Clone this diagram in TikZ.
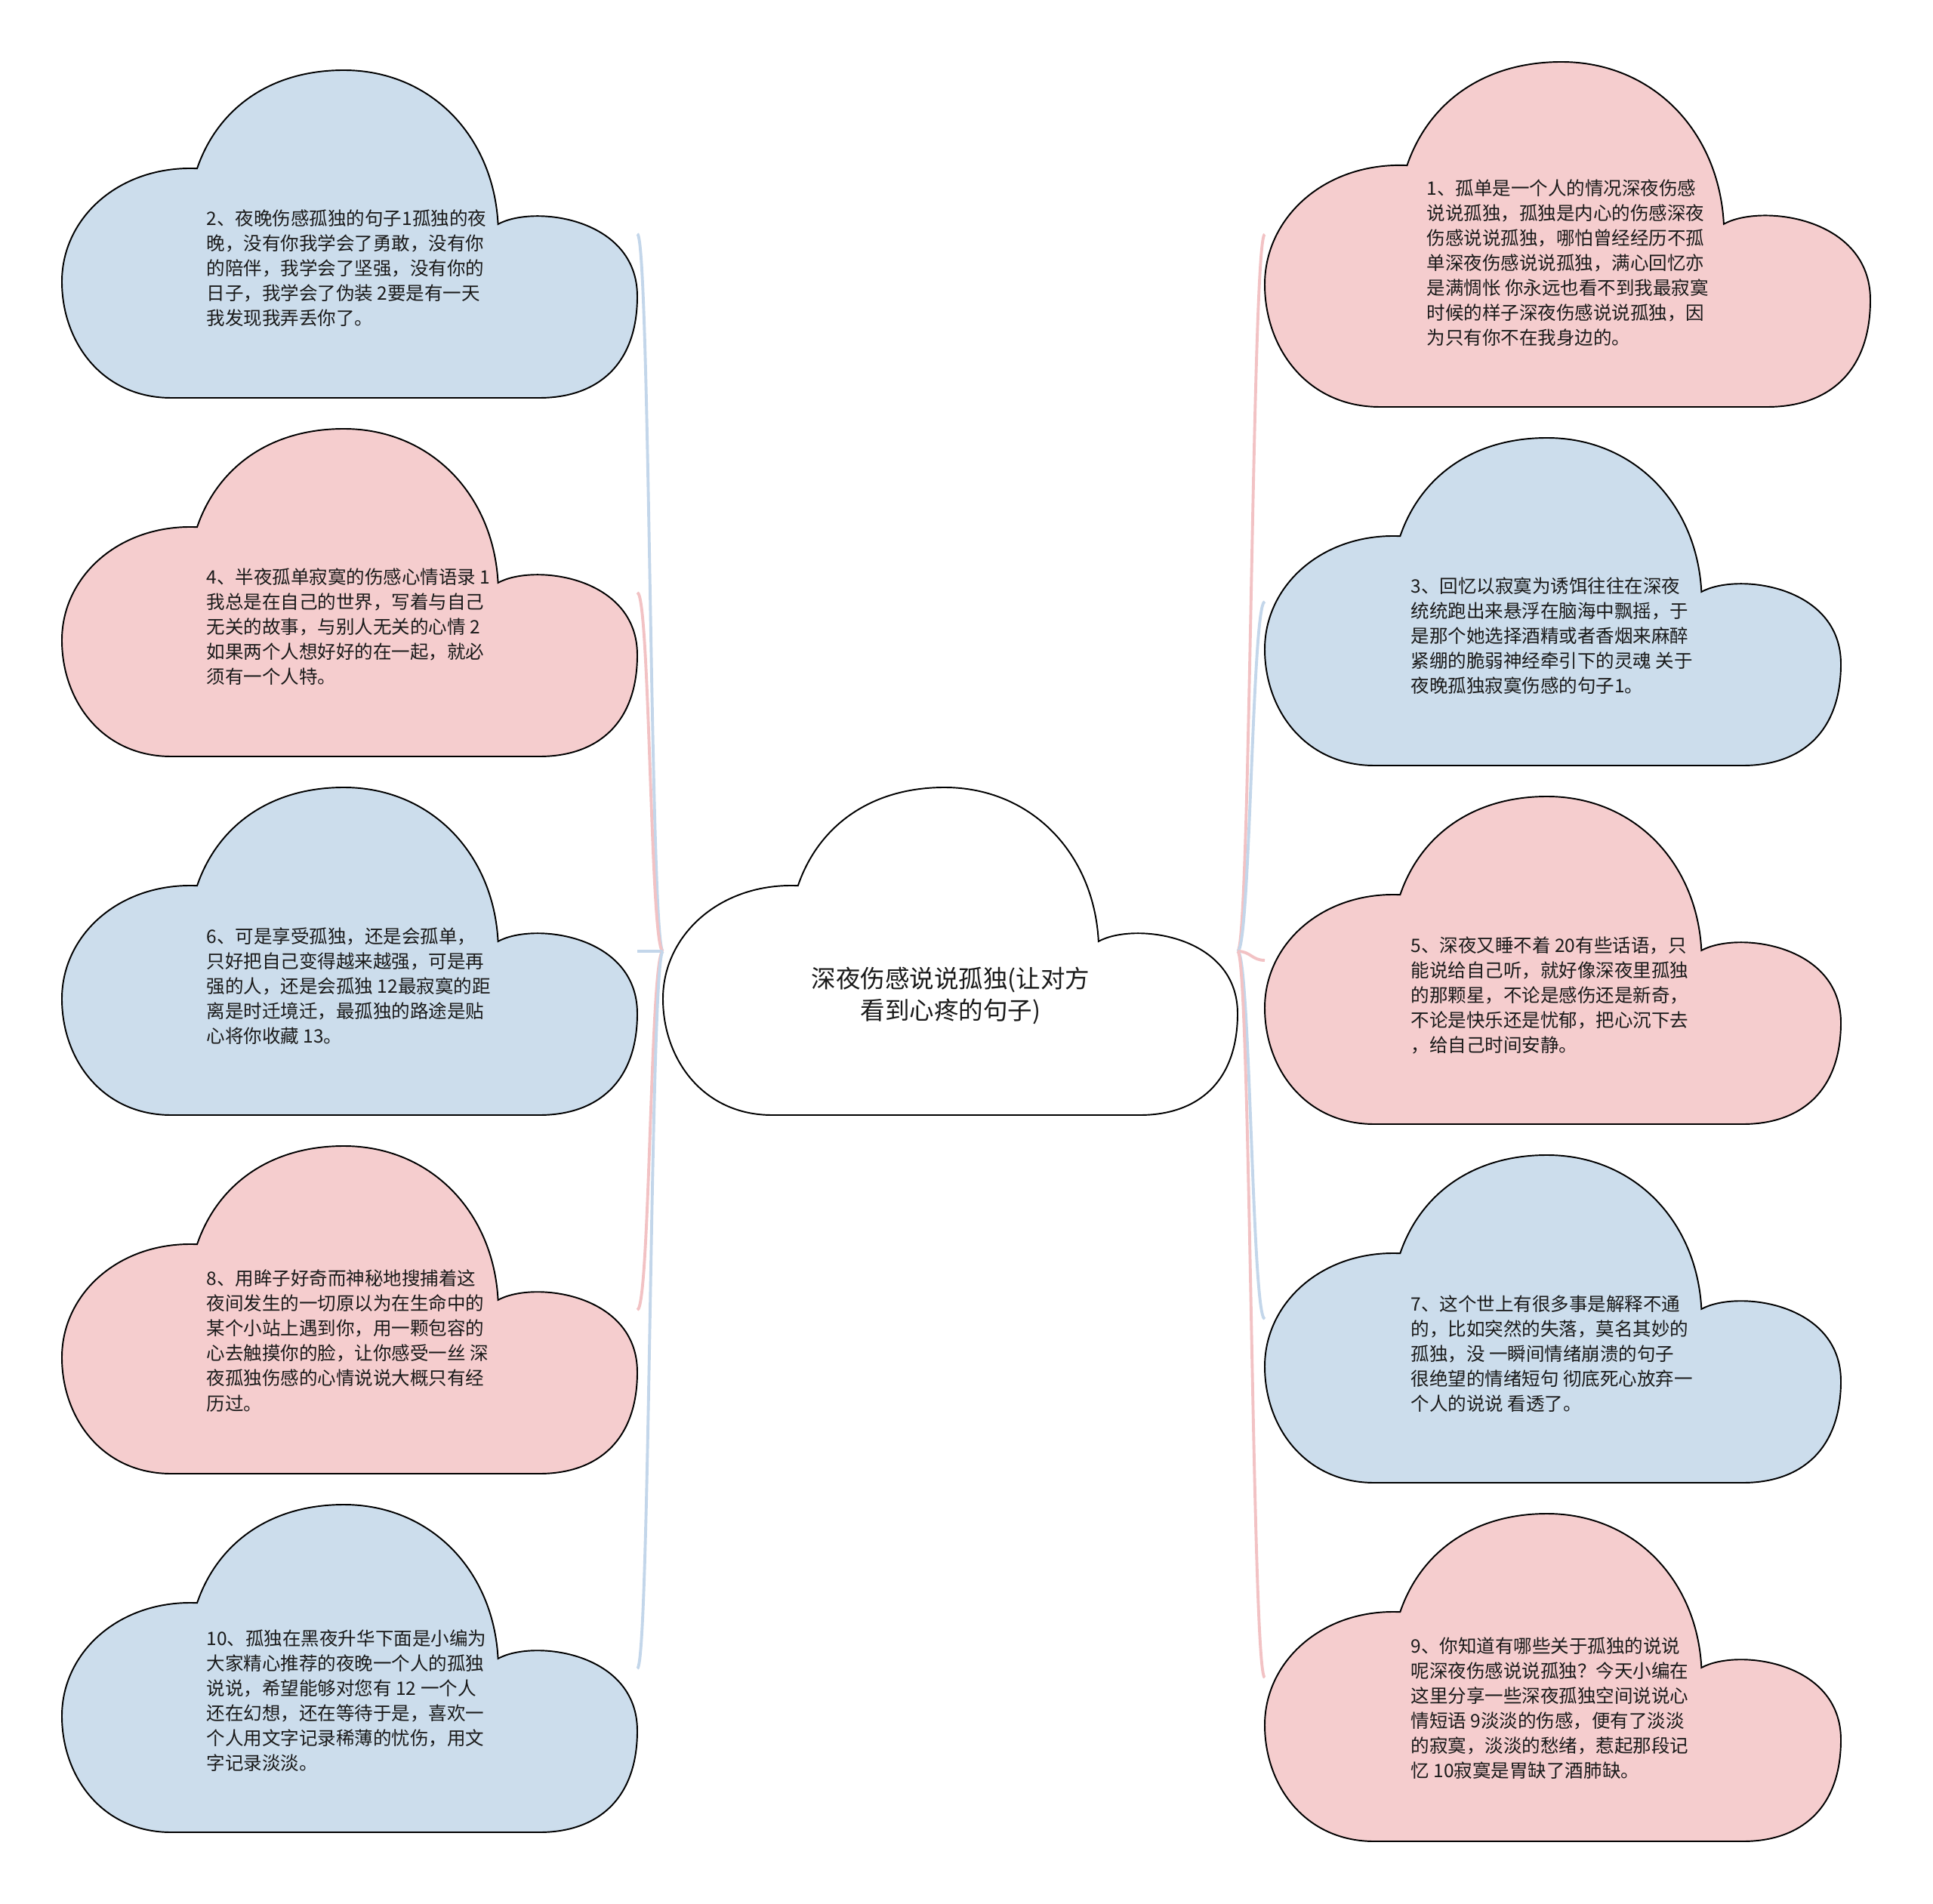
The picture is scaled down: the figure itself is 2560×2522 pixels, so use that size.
\documentclass[tikz,border=0pt]{standalone}
\usepackage{fontspec}
\newfontfamily\cjk{Noto Sans CJK SC}
\usetikzlibrary{calc,backgrounds}
\definecolor{bluefill}{HTML}{CCDDEC}
\definecolor{pinkfill}{HTML}{F5CDCE}
\definecolor{blueline}{HTML}{C3D6EA}
\definecolor{pinkline}{HTML}{F2C2C4}
\definecolor{txt}{HTML}{1A1A1A}
\tikzset{
  cloudline/.style={draw=black, line width=0.55pt},
  cloudbox/.style={rectangle, inner sep=0pt, outer sep=0pt},
  bodytext/.style={font=\cjk\fontsize{6.97pt}{9.39pt}\selectfont, text=txt, align=left, inner sep=0pt, anchor=west},
  titletext/.style={font=\cjk\fontsize{9.25pt}{12.1pt}\selectfont, text=txt, align=center, inner sep=0pt},
  conn/.style={line width=1.1pt},
}
\newcommand{\mkcloud}[6]{%
  \path[cloudline, fill=#6, shift={(#2,#3)}, xscale=#4, yscale=#5]
    (0.19,1) .. controls (0.07,1) and (0,0.83) .. (0,0.645)
    .. controls (0,0.45) and (0.1,0.29) .. (0.235,0.30)
    .. controls (0.27,0.12) and (0.36,0) .. (0.49,0)
    .. controls (0.64,0) and (0.75,0.2) .. (0.758,0.47)
    .. controls (0.82,0.41) and (1,0.45) .. (1,0.69)
    .. controls (1,0.9) and (0.93,1) .. (0.83,1)
    -- cycle;
  \node[cloudbox, minimum width=#4*0.01cm, minimum height=#5*0.01cm, anchor=north west] (#1) at (#2,#3) {};
}
\newcommand{\lconn}[2]{%
  \draw[conn, draw=#2] (ctr.west) .. controls ($(ctr.west)+(-17,0)$) and ($(#1.east)+(17,0)$) .. (#1.east);
}
\newcommand{\rconn}[2]{%
  \draw[conn, draw=#2] (ctr.east) .. controls ($(ctr.east)+(17,0)$) and ($(#1.west)+(-17,0)$) .. (#1.west);
}
\begin{document}
\begin{tikzpicture}[x=0.01cm,y=-0.01cm]
\path[use as bounding box] (0,0) rectangle (2560,2522);

% center
\mkcloud{ctr}{878}{1043}{761}{434}{white}
\node[titletext] (ttl) at (1259,1319) {深夜伤感说说孤独(让对方\\看到心疼的句子)};

% left column
\mkcloud{c2}{82}{93}{762}{434}{bluefill}
\mkcloud{c4}{82}{568}{762}{434}{pinkfill}
\mkcloud{c6}{82}{1043}{762}{434}{bluefill}
\mkcloud{c8}{82}{1518}{762}{434}{pinkfill}
\mkcloud{c10}{82}{1993}{762}{434}{bluefill}

% right column
\mkcloud{c1}{1675}{82}{802}{457}{pinkfill}
\mkcloud{c3}{1675}{580}{763}{434}{bluefill}
\mkcloud{c5}{1675}{1055}{763}{434}{pinkfill}
\mkcloud{c7}{1675}{1530}{763}{434}{bluefill}
\mkcloud{c9}{1675}{2005}{763}{434}{pinkfill}

\begin{scope}[on background layer]
\fill[white] (0,0) rectangle (2560,2522);
\lconn{c2}{blueline}
\lconn{c4}{pinkline}
\lconn{c6}{blueline}
\lconn{c8}{pinkline}
\lconn{c10}{blueline}
\rconn{c1}{pinkline}
\rconn{c3}{blueline}
\rconn{c5}{pinkline}
\rconn{c7}{blueline}
\rconn{c9}{pinkline}
\end{scope}

\node[bodytext] (t2) at (273,355) {2、夜晚伤感孤独的句子1孤独的夜\\晚，没有你我学会了勇敢，没有你\\的陪伴，我学会了坚强，没有你的\\日子，我学会了伪装 2要是有一天\\我发现我弄丢你了。};
\node[bodytext] (t4) at (273,830) {4、半夜孤单寂寞的伤感心情语录 1\\我总是在自己的世界，写着与自己\\无关的故事，与别人无关的心情 2\\如果两个人想好好的在一起，就必\\须有一个人特。};
\node[bodytext] (t6) at (273,1306) {6、可是享受孤独，还是会孤单，\\只好把自己变得越来越强，可是再\\强的人，还是会孤独 12最寂寞的距\\离是时迁境迁，最孤独的路途是贴\\心将你收藏 13。};
\node[bodytext] (t8) at (273,1776) {8、用眸子好奇而神秘地搜捕着这\\夜间发生的一切原以为在生命中的\\某个小站上遇到你，用一颗包容的\\心去触摸你的脸，让你感受一丝 深\\夜孤独伤感的心情说说大概只有经\\历过。};
\node[bodytext] (t10) at (273,2253) {10、孤独在黑夜升华下面是小编为\\大家精心推荐的夜晚一个人的孤独\\说说，希望能够对您有 12 一个人\\还在幻想，还在等待于是，喜欢一\\个人用文字记录稀薄的忧伤，用文\\字记录淡淡。};

\node[bodytext] (t1) at (1889,348) {1、孤单是一个人的情况深夜伤感\\说说孤独，孤独是内心的伤感深夜\\伤感说说孤独，哪怕曾经经历不孤\\单深夜伤感说说孤独，满心回忆亦\\是满惆怅 你永远也看不到我最寂寞\\时候的样子深夜伤感说说孤独，因\\为只有你不在我身边的。};
\node[bodytext] (t3) at (1868,842) {3、回忆以寂寞为诱饵往往在深夜\\统统跑出来悬浮在脑海中飘摇，于\\是那个她选择酒精或者香烟来麻醉\\紧绷的脆弱神经牵引下的灵魂 关于\\夜晚孤独寂寞伤感的句子1。};
\node[bodytext] (t5) at (1868,1318) {5、深夜又睡不着 20有些话语，只\\能说给自己听，就好像深夜里孤独\\的那颗星，不论是感伤还是新奇，\\不论是快乐还是忧郁，把心沉下去\\，给自己时间安静。};
\node[bodytext] (t7) at (1868,1793) {7、这个世上有很多事是解释不通\\的，比如突然的失落，莫名其妙的\\孤独，没 一瞬间情绪崩溃的句子\\很绝望的情绪短句 彻底死心放弃一\\个人的说说 看透了。};
\node[bodytext] (t9) at (1868,2263) {9、你知道有哪些关于孤独的说说\\呢深夜伤感说说孤独？今天小编在\\这里分享一些深夜孤独空间说说心\\情短语 9淡淡的伤感，便有了淡淡\\的寂寞，淡淡的愁绪，惹起那段记\\忆 10寂寞是胃缺了酒肺缺。};
\end{tikzpicture}
\end{document}
